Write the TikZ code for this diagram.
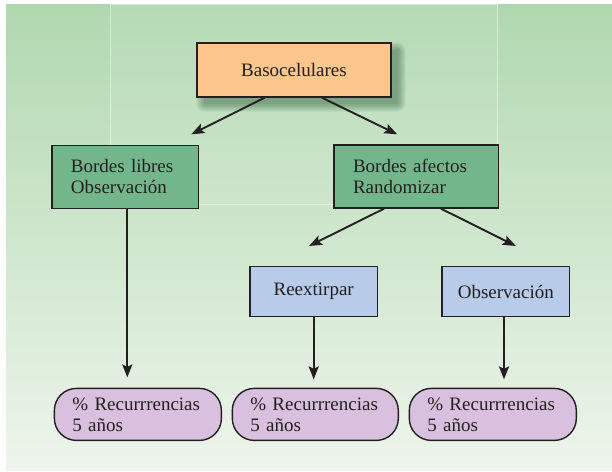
\documentclass[tikz,border=0pt]{standalone}
\usepackage{fontspec}
\setmainfont{Liberation Serif}
\usetikzlibrary{arrows.meta}
\definecolor{bgtop}{RGB}{176,216,175}
\definecolor{bgbot}{RGB}{238,245,236}
\definecolor{orangebox}{RGB}{252,198,140}
\definecolor{greenbox}{RGB}{115,182,139}
\definecolor{bluebox}{RGB}{184,204,234}
\definecolor{purplebox}{RGB}{217,192,222}
\definecolor{inkc}{RGB}{35,31,32}
\definecolor{shadowc}{RGB}{40,90,55}
\tikzset{
  boxbase/.style={draw=inkc, line width=1.4pt, text=inkc, inner ysep=0pt,
    font=\fontsize{19}{21}\selectfont, align=left},
  rectbox/.style={boxbase, rectangle},
  pillbox/.style={boxbase, rectangle, rounded corners=22pt, fill=purplebox,
    minimum height=52pt, text width=131pt, inner xsep=18pt},
  arr/.style={draw=inkc, line width=1.9pt, -{Stealth[length=13pt,width=10pt,inset=2.5pt]}},
}
\begin{document}
\begin{tikzpicture}[x=1pt,y=-1pt]
\useasboundingbox (0,0) rectangle (612,471);
\fill[white] (0,0) rectangle (612,471);
\shade[top color=bgtop, bottom color=bgbot] (6,4) rectangle (612,470);
\fill[white, fill opacity=0.07] (110.5,4) rectangle (497.7,204);
\draw[white, opacity=0.45, line width=0.5pt] (110.5,4) rectangle (497.7,204);
% shadow of top box
\foreach \r in {1,2.5,4,5.5,7,8.5}
  \fill[shadowc, opacity=0.09, rounded corners=\r pt] (205-\r,51-\r) rectangle (397+\r,103+\r);
\node[rectbox, fill=orangebox, minimum width=194pt, minimum height=54pt] (baso) at (294,70) {Basocelulares};
\node[rectbox, fill=greenbox, text width=108.7pt, inner xsep=19pt, minimum height=63pt] (libres) at (125.3,176.8) {Bordes libres\\Observación};
\node[rectbox, fill=greenbox, text width=126.4pt, inner xsep=19pt, minimum height=63pt] (afectos) at (416.2,176.5) {Bordes afectos\\Randomizar};
\node[rectbox, fill=bluebox, minimum width=127.4pt, minimum height=50pt] (reext) at (313.7,291.7) {Reextirpar};
\node[rectbox, fill=bluebox, minimum width=127.5pt, minimum height=50pt] (obs) at (505.8,291.7) {Observación};
\node[pillbox] (p1) at (137.9,414.4) {\% Recurrrencias\\5 años};
\node[pillbox, text width=130pt] (p2) at (315.3,414.4) {\% Recurrrencias\\5 años};
\node[pillbox] (p3) at (492.8,414.4) {\% Recurrrencias\\5 años};
\draw[arr] ([xshift=-29.4pt]baso.south) -- ([xshift=66pt,yshift=10.3pt]libres.north);
\draw[arr] ([xshift=28pt]baso.south) -- ([xshift=-19pt,yshift=10pt]afectos.north);
\draw[arr] ([xshift=-32.2pt]afectos.south) -- ([xshift=-4.7pt,yshift=20pt]reext.north);
\draw[arr] ([xshift=24.8pt]afectos.south) -- ([xshift=10pt,yshift=20pt]obs.north);
\draw[arr] ([xshift=2pt]libres.south) -- ([xshift=2pt,yshift=10.3pt]libres.south |- p1.north);
\draw[arr] (reext.south) -- ([yshift=8.3pt]reext.south |- p2.north);
\draw[arr] ([xshift=-1.8pt]obs.south) -- ([xshift=-1.8pt,yshift=8.3pt]obs.south |- p3.north);
\end{tikzpicture}
\end{document}
